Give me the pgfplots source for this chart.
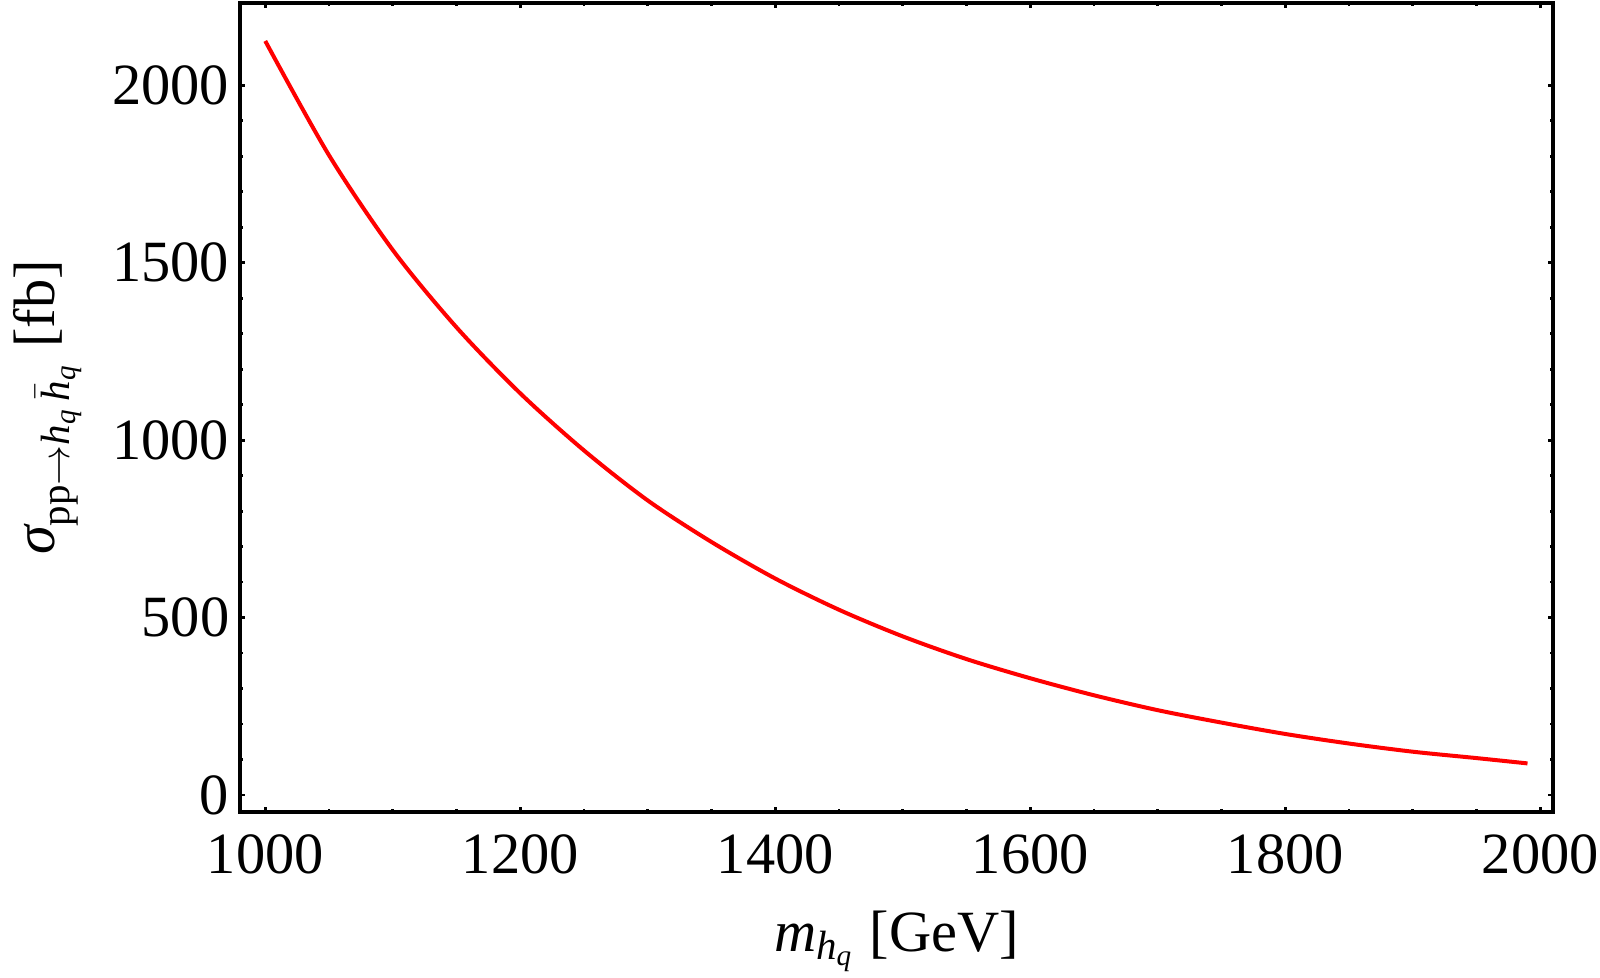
\documentclass[border=0pt]{standalone}
\usepackage{amsmath}
\usepackage{fontspec}
\setmainfont{Liberation Serif}
\usepackage{pgfplots}
\pgfplotsset{compat=1.18}
\begin{document}
\fontsize{14.6}{17}\selectfont
\begin{tikzpicture}
\begin{axis}[
  scale only axis,
  width=328.25pt, height=202.25pt,
  xmin=980.2, xmax=2010, ymin=-48, ymax=2232,
  xtick={1000,1200,1400,1600,1800,2000},
  ytick={0,500,1000,1500,2000},
  minor x tick num=3, minor y tick num=4,
  tick align=inside,
  major tick length=1.3pt, minor tick length=0.8pt,
  axis line style={line width=0.8pt},
  every tick/.style={black, line width=0.7pt},
  /pgf/number format/assume math mode=true,
  /pgf/number format/1000 sep={},
  scaled ticks=false,
  ticklabel style={font=\fontsize{14.6}{17}\selectfont, inner sep=0pt},
  yticklabel style={anchor=east, xshift=-2.5pt},
  xticklabel style={anchor=base, yshift=-15.25pt},
  label style={font=\fontsize{14.6}{17}\selectfont, inner sep=0pt},
  xlabel={$\textit{m}_{\textit{h}_{\textit{q}}}$ [GeV]},
  xlabel style={at={(axis description cs:0.5,-0.1718)}, anchor=base},
  ylabel={$\textit{σ}_{\mathrm{pp}\to\textit{h}_{\textit{q}}\,\bar{\textit{h}}_{\textit{q}}}$ [fb]},
  ylabel style={at={(axis description cs:-0.1409,0.5)}, anchor=base},
]
\addplot[red, line width=1pt, smooth] coordinates {
(1000,2125) (1050,1803) (1100,1536) (1150,1318) (1200,1132)
(1250,971) (1300,830) (1350,713) (1400,610) (1450,522)
(1500,447) (1550,383) (1600,329) (1650,281) (1700,239)
(1750,204) (1800,172) (1850,145) (1900,122) (1950,104) (1990,89)
};
\coordinate (bl) at (rel axis cs:0,0);
\coordinate (tr) at (rel axis cs:1,1);
\end{axis}
\pgfresetboundingbox
\path ([shift={(-60pt,-41.25pt)}]bl) rectangle ([shift={(11.75pt,0.75pt)}]tr);
\end{tikzpicture}
\end{document}
